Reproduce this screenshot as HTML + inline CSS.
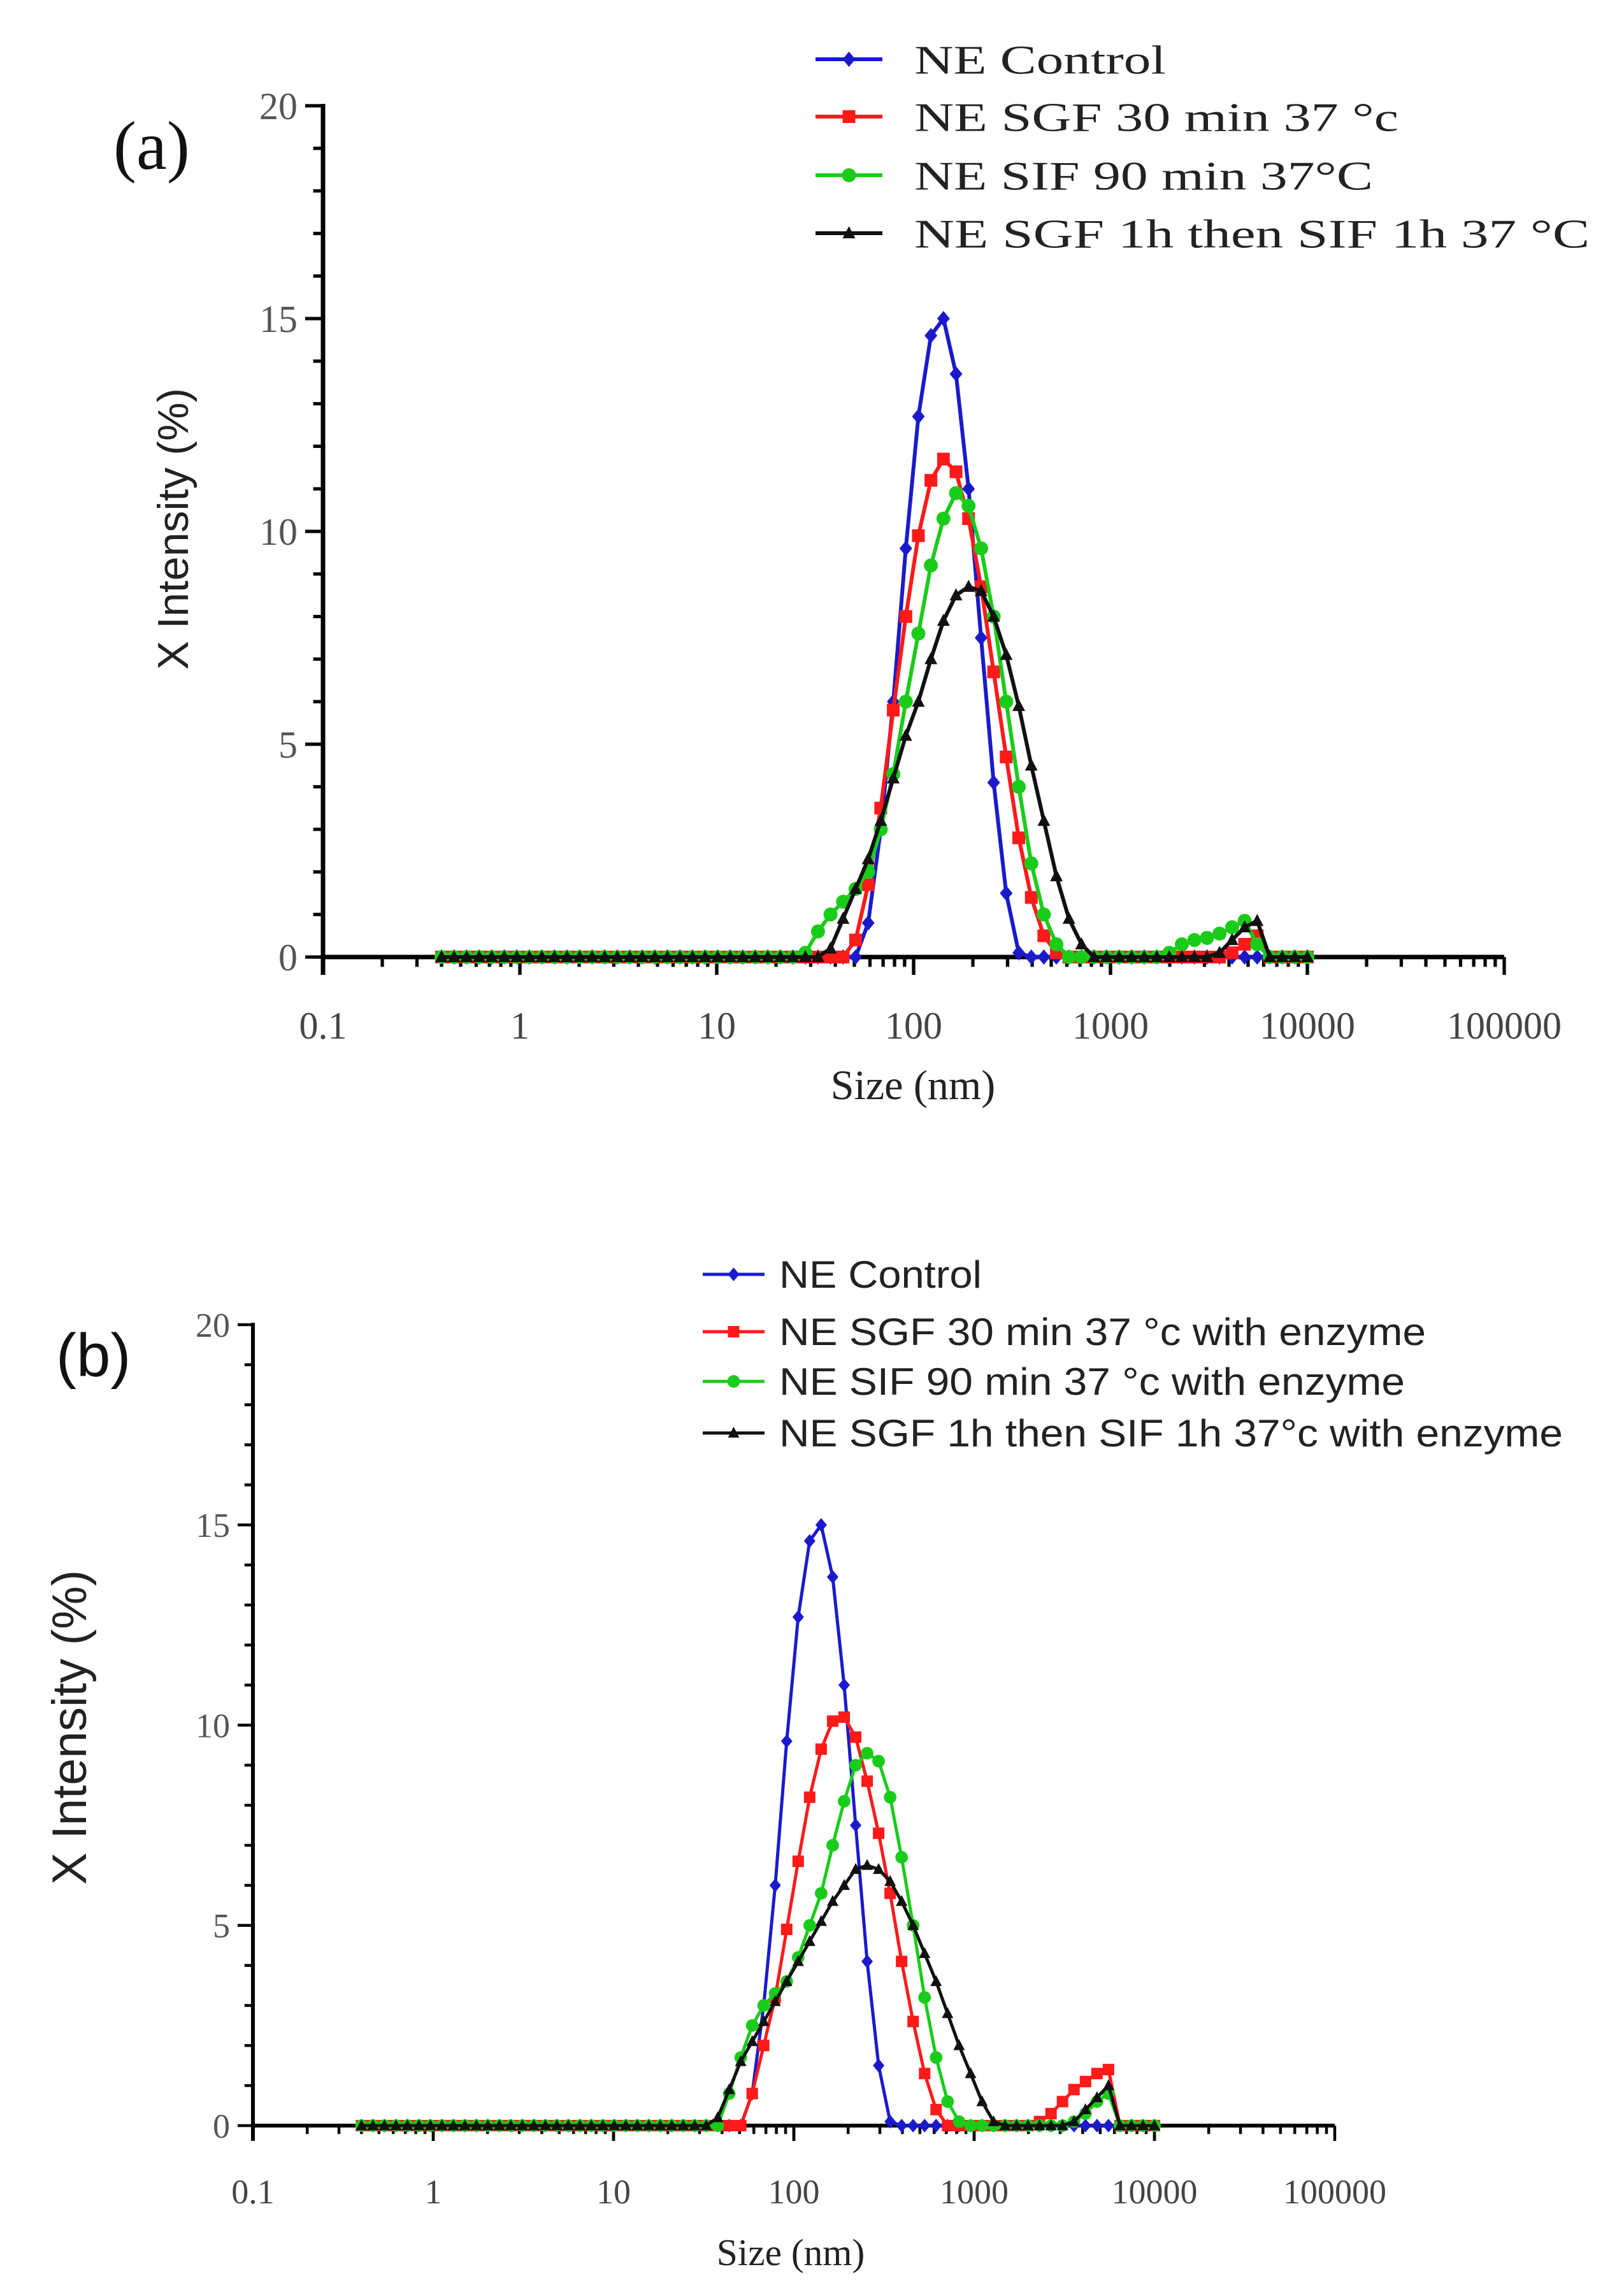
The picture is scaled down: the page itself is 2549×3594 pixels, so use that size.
<!DOCTYPE html>
<html><head><meta charset="utf-8">
<style>html,body{margin:0;padding:0;background:#fff;}svg{display:block;}</style>
</head><body>
<svg id="chart" width="2549" height="3594" viewBox="0 0 2549 3594" xmlns="http://www.w3.org/2000/svg">
<g id="panelA"></g>
<g id="panelB"></g>
</svg>
<script>
// Bin sizes: 70 log-spaced bins from 0.4 to 10000 nm (bin index i)
const binCount = 70;
const binStartNm = 0.4;
const binEndNm = 10000;
const xTickLabels = ["0.1","1","10","100","1000","10000","100000"];
const yTickLabels = ["0","5","10","15","20"];

// Panel (a) series: start bin index + values (all other bins are 0)
const aControlStart = 34;
const aControl = [0.8,3.0,6.0,9.6,12.7,14.6,15.0,13.7,11.0,7.5,4.1,1.5,0.1];
const aSGFStart = 33;
const aSGF = [0.4,1.7,3.5,5.8,8.0,9.9,11.2,11.7,11.4,10.3,8.7,6.7,4.7,2.8,1.4,0.5,0.1];
const aSGF2Start = 63;
const aSGF2 = [0.1,0.3,0.5];
const aSIFStart = 29;
const aSIF = [0.1,0.6,1.0,1.3,1.6,2.0,3.0,4.3,6.0,7.6,9.2,10.3,10.9,10.6,9.6,8.0,6.0,4.0,2.2,1.0,0.3];
const aSIF2Start = 58;
const aSIF2 = [0.1,0.3,0.4,0.45,0.55,0.7,0.85,0.3];
const aMixStart = 31;
const aMix = [0.2,0.9,1.6,2.3,3.2,4.2,5.2,6.0,7.0,7.9,8.5,8.7,8.6,8.0,7.1,5.9,4.5,3.2,1.9,0.9,0.3];
const aMix2Start = 62;
const aMix2 = [0.1,0.4,0.7,0.85];

// Panel (b) series
const bControlStart = 34;
const bControl = [0.8,3.0,6.0,9.6,12.7,14.6,15.0,13.7,11.0,7.5,4.1,1.5,0.1];
const bSGFStart = 34;
const bSGF = [0.8,2.0,3.2,4.9,6.6,8.2,9.4,10.1,10.2,9.7,8.6,7.3,5.8,4.1,2.6,1.3,0.4];
const bSGF2Start = 59;
const bSGF2 = [0.1,0.3,0.6,0.9,1.1,1.3,1.4];
const bSIFStart = 32;
const bSIF = [0.8,1.7,2.5,3.0,3.3,3.6,4.2,5.0,5.8,7.0,8.1,9.0,9.3,9.1,8.2,6.7,5.0,3.2,1.7,0.6,0.1];
const bSIF2Start = 62;
const bSIF2 = [0.1,0.3,0.6,0.8];
const bMixStart = 31;
const bMix = [0.2,0.9,1.6,2.1,2.6,3.1,3.6,4.1,4.6,5.1,5.6,6.0,6.4,6.5,6.4,6.1,5.6,5.0,4.3,3.6,2.8,2.0,1.3,0.6,0.1];
const bMix2Start = 62;
const bMix2 = [0.1,0.4,0.7,1.0];

const NS = "http://www.w3.org/2000/svg";
function mk(parent, tag, attrs, text){
  const e = document.createElementNS(NS, tag);
  for (const k in attrs) e.setAttribute(k, attrs[k]);
  if (text !== undefined) e.textContent = text;
  parent.appendChild(e);
  return e;
}
function fullSeries(start, vals, start2, vals2){
  const arr = new Array(binCount).fill(0);
  vals.forEach((v,j)=>{arr[start+j]=v;});
  if (vals2) vals2.forEach((v,j)=>{arr[start2+j]=v;});
  return arr;
}
function binSize(i){
  const l0 = Math.log10(binStartNm), l1 = Math.log10(binEndNm);
  return Math.pow(10, l0 + (l1-l0)*i/(binCount-1));
}
function marker(g, type, x, y, color, r){
  if (type==="diamond") return mk(g,"polygon",{points:`${x},${y-r*1.2} ${x+r},${y} ${x},${y+r*1.2} ${x-r},${y}`,fill:color});
  if (type==="square") return mk(g,"rect",{x:x-r,y:y-r,width:2*r,height:2*r,fill:color});
  if (type==="circle") return mk(g,"circle",{cx:x,cy:y,r:r*1.1,fill:color});
  return mk(g,"polygon",{points:`${x},${y-r*1.1} ${x+r},${y+r*0.8} ${x-r},${y+r*0.8}`,fill:color});
}

function drawPanel(g, cfg){
  const xs = v => cfg.x0 + (Math.log10(v)+1)*cfg.dec;
  const ys = v => cfg.y0 - (v/20)*(cfg.y0-cfg.y20);
  const xEnd = cfg.x0 + 6*cfg.dec;
  const ax = mk(g,"g",{});
  
  
  mk(ax,"line",{x1:cfg.x0,y1:cfg.y20-3,x2:cfg.x0,y2:cfg.y0+cfg.tickL,stroke:"#000","stroke-width":cfg.aw});
  mk(ax,"line",{x1:cfg.x0-cfg.aw/2,y1:cfg.y0,x2:xEnd,y2:cfg.y0,stroke:"#000","stroke-width":cfg.aw});
  for (let v=0; v<=20; v++){
    const major = v%5===0;
    mk(ax,"line",{x1:cfg.x0-(major?cfg.tickL:cfg.tickL*0.55),y1:ys(v),x2:cfg.x0,y2:ys(v),stroke:"#000","stroke-width":cfg.aw*0.75});
  }
  yTickLabels.forEach(t=>{
    const tl = mk(ax,"text",{x:cfg.x0-cfg.tickL-12,y:ys(+t)+cfg.tf*0.35,"text-anchor":"end","font-family":"Liberation Serif, serif","font-size":cfg.tf,fill:"#555"},t);
    
    
  });
  for (let d=-1; d<5; d++){
    for (let m=1; m<=10; m++){
      const v = m*Math.pow(10,d);
      const major = m===1 || m===10;
      mk(ax,"line",{x1:xs(v),y1:cfg.y0,x2:xs(v),y2:cfg.y0+(major?cfg.tickL:cfg.tickL*0.55),stroke:"#000","stroke-width":cfg.aw*0.75});
    }
  }
  xTickLabels.forEach(t=>{
    const tl = mk(ax,"text",{x:xs(+t),y:cfg.xly,"text-anchor":"middle","font-family":"Liberation Serif, serif","font-size":cfg.tf,fill:"#444"},t);
    
    
  });
  const xt = mk(g,"text",{x:cfg.xtx,y:cfg.xty,"text-anchor":"middle","font-family":"Liberation Serif, serif","font-size":cfg.tf*1.1,fill:"#222"},"Size (nm)");
  
  
  const yt = mk(g,"text",{x:0,y:0,"text-anchor":"middle","font-family":"Liberation Sans, sans-serif","font-size":cfg.ytf,fill:"#222",transform:`translate(${cfg.ytx},${cfg.yty}) rotate(-90)`},"X Intensity (%)");
  
  
  const pl = mk(g,"text",{x:cfg.plx,y:cfg.ply,"font-family":cfg.plFont,"font-size":cfg.plSize,fill:"#111"},cfg.label);
  
  

  cfg.series.forEach((s,k)=>{
    const sg = mk(g,"g",{});
    
    
    const pts = s.data.map((v,i)=>[xs(binSize(i)),ys(v)]);
    mk(sg,"polyline",{points:pts.map(p=>p.join(",")).join(" "),fill:"none",stroke:s.color,"stroke-width":cfg.lw,"stroke-linejoin":"round"});
    pts.forEach(p=>{
      const m = marker(sg,s.marker,p[0],p[1],s.color,cfg.mr);
      
      
    });
    const lg = mk(g,"g",{});
    
    
    const ly = cfg.legY[k];
    mk(lg,"line",{x1:cfg.legX1,y1:ly,x2:cfg.legX2,y2:ly,stroke:s.color,"stroke-width":cfg.lw});
    marker(lg,s.marker,(cfg.legX1+cfg.legX2)/2,ly,s.color,cfg.mr);
    mk(lg,"text",{x:cfg.legTX,y:ly+cfg.legF*0.35,"font-family":cfg.legFont,"font-size":cfg.legF,fill:"#222",textLength:s.tl,lengthAdjust:"spacingAndGlyphs"},s.name);
  });
}

drawPanel(document.getElementById("panelA"),{
  x0:507,dec:309,y0:1502,y20:166,aw:7,tickL:28,tf:60,xly:1630,xtx:1433,xty:1725,ytf:68,ytx:295,yty:830,
  plx:178,ply:265,plFont:"Liberation Serif, serif",plSize:108,label:"(a)",lw:6,mr:10,
  legX1:1280,legX2:1385,legTX:1435,legY:[93,183,275,366],legFont:"Liberation Serif, serif",legF:64,
  series:[
    {key:"control",name:"NE Control",color:"#1a1acc",marker:"diamond",data:fullSeries(aControlStart,aControl),tl:395},
    {key:"sgf",name:"NE SGF 30 min 37 °c",color:"#ff1a1a",marker:"square",data:fullSeries(aSGFStart,aSGF,aSGF2Start,aSGF2),tl:760},
    {key:"sif",name:"NE SIF 90 min 37°C",color:"#1acc1a",marker:"circle",data:fullSeries(aSIFStart,aSIF,aSIF2Start,aSIF2),tl:720},
    {key:"sgf-sif",name:"NE SGF 1h then SIF 1h 37 °C",color:"#111",marker:"triangle",data:fullSeries(aMixStart,aMix,aMix2Start,aMix2),tl:1060}
  ]
});
drawPanel(document.getElementById("panelB"),{
  x0:397,dec:283,y0:3336,y20:2079,aw:6,tickL:24,tf:54,xly:3458,xtx:1241,xty:3555,ytf:76,ytx:135,yty:2711,
  plx:88,ply:2160,plFont:"Liberation Sans, sans-serif",plSize:96,label:"(b)",lw:5,mr:9,
  legX1:1103,legX2:1200,legTX:1223,legY:[2000,2090,2168,2249],legFont:"Liberation Sans, sans-serif",legF:60,
  series:[
    {key:"control",name:"NE Control",color:"#1a1acc",marker:"diamond",data:fullSeries(bControlStart,bControl),tl:318},
    {key:"sgf",name:"NE SGF 30 min 37 °c with enzyme",color:"#ff1a1a",marker:"square",data:fullSeries(bSGFStart,bSGF,bSGF2Start,bSGF2),tl:1015},
    {key:"sif",name:"NE SIF 90 min 37 °c with enzyme",color:"#1acc1a",marker:"circle",data:fullSeries(bSIFStart,bSIF,bSIF2Start,bSIF2),tl:982},
    {key:"sgf-sif",name:"NE SGF 1h then SIF 1h 37°c with enzyme",color:"#111",marker:"triangle",data:fullSeries(bMixStart,bMix,bMix2Start,bMix2),tl:1230}
  ]
});
</script>
</body></html>
